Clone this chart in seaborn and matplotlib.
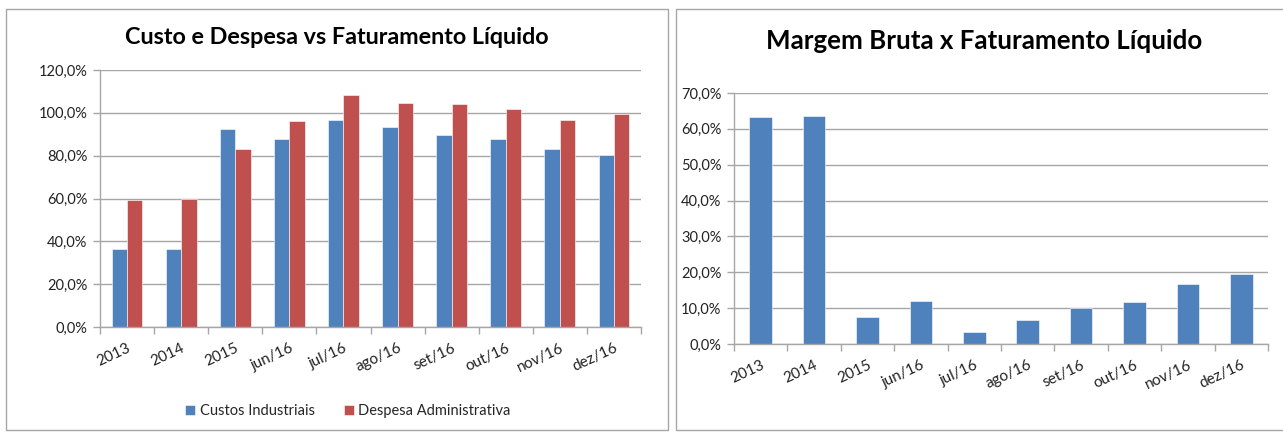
import matplotlib
matplotlib.use("Agg")
import matplotlib.pyplot as plt
import seaborn as sns
import pandas as pd
from matplotlib.ticker import FuncFormatter, FixedLocator
from matplotlib.patches import Rectangle

categories = ["2013", "2014", "2015", "jun/16", "jul/16", "ago/16", "set/16", "out/16", "nov/16", "dez/16"]
custos_industriais = [36.5, 36.2, 92.3, 87.7, 96.5, 93.3, 89.8, 88.0, 83.1, 80.3]
despesa_administrativa = [59.4, 59.8, 83.2, 96.2, 108.1, 104.6, 103.9, 101.8, 96.8, 99.4]
margem_bruta = [63.3, 63.6, 7.6, 12.1, 3.3, 6.7, 10.1, 11.6, 16.6, 19.6]
series_names = ["Custos Industriais", "Despesa Administrativa"]

BLUE = "#4F81BD"
RED = "#C0504D"
FONT = "Lato"

sns.set_theme(style="white")
plt.rcParams["font.family"] = [FONT, "DejaVu Sans"]

df_left = pd.DataFrame({
    "cat": categories * 2,
    "val": custos_industriais + despesa_administrativa,
    "serie": [series_names[0]] * len(categories) + [series_names[1]] * len(categories),
})
df_right = pd.DataFrame({"cat": categories, "val": margem_bruta})

W, H = 1283, 433
fig = plt.figure(figsize=(W / 100, H / 100), dpi=100)
fig.patch.set_facecolor("white")

# panel borders
fig.patches.append(Rectangle((6 / W, 1 - 430 / H), (668 - 6) / W, (430 - 9) / H,
                             transform=fig.transFigure, fill=False, edgecolor="#A6A6A6", lw=1.0))
fig.patches.append(Rectangle((676 / W, 1 - 430 / H), (1290 - 676) / W, (430 - 9) / H,
                             transform=fig.transFigure, fill=False, edgecolor="#A6A6A6", lw=1.0))

def px_axes(x0, y0, x1, y1):
    return fig.add_axes([x0 / W, 1 - y1 / H, (x1 - x0) / W, (y1 - y0) / H])

pct = FuncFormatter(lambda v, p: f"{v:.1f}".replace(".", ",") + "%")

def style(ax, ymax, step):
    ax.set_ylim(0, ymax)
    ax.set_xlim(-0.5, len(categories) - 0.5)
    ax.yaxis.set_major_locator(FixedLocator([i * step for i in range(int(round(ymax / step)) + 1)]))
    ax.yaxis.set_major_formatter(pct)
    ax.grid(axis="y", color="#A6A6A6", lw=1.0)
    ax.set_axisbelow(True)
    for s in ["top", "right"]:
        ax.spines[s].set_visible(False)
    for s in ["left", "bottom"]:
        ax.spines[s].set_color("#A6A6A6")
        ax.spines[s].set_linewidth(1.0)
    ax.set_xlabel("")
    ax.set_ylabel("")
    ax.set_xticks(range(len(categories)))
    ax.set_xticklabels(categories, rotation=25, ha="right", rotation_mode="anchor",
                       fontsize=11, color="#222222")
    ax.set_xticks([i - 0.5 for i in range(len(categories) + 1)], minor=True)
    ax.tick_params(axis="x", which="major", length=0, pad=10)
    ax.tick_params(axis="x", which="minor", length=5, color="#A6A6A6", width=1, bottom=True)
    ax.tick_params(axis="y", which="major", length=5, color="#A6A6A6", width=1, left=True,
                   labelsize=10.5, labelcolor="#222222", pad=4)

# left chart
ax1 = px_axes(100, 70, 641, 327)
sns.barplot(data=df_left, x="cat", y="val", hue="serie", order=categories,
            palette=[BLUE, RED], width=0.57, saturation=1, ax=ax1, legend=True,
            edgecolor="white", linewidth=0.4)
style(ax1, 120, 20)
leg = ax1.legend(loc="center", bbox_to_anchor=(348 / W, 1 - 411 / H), bbox_transform=fig.transFigure,
                 ncol=2, frameon=False, fontsize=10.5, handlelength=0.7, handleheight=0.7,
                 handletextpad=0.3, columnspacing=2.0)
fig.text(337 / W, 1 - 37 / H, "Custo e Despesa vs Faturamento Líquido", fontsize=16.8,
         fontweight="bold", color="black", ha="center", va="center")

# right chart
ax2 = px_axes(734, 93, 1268, 344)
sns.barplot(data=df_right, x="cat", y="val", order=categories, color=BLUE, width=0.42,
            saturation=1, ax=ax2, edgecolor="white", linewidth=0.4)
style(ax2, 70, 10)
fig.text(984 / W, 1 - 41 / H, "Margem Bruta x Faturamento Líquido", fontsize=18.6,
         fontweight="bold", color="black", ha="center", va="center")

fig.savefig("out.png", dpi=100, facecolor="white")
